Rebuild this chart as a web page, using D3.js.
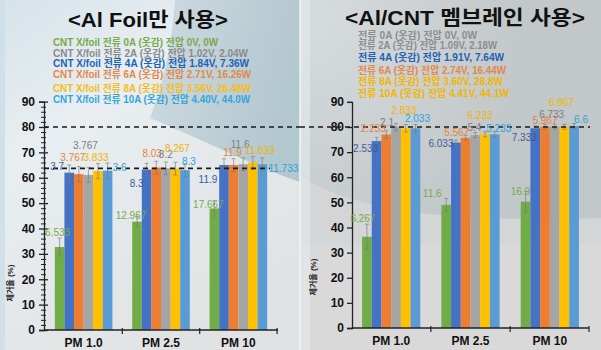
<!DOCTYPE html>
<html><head><meta charset="utf-8">
<script src="https://cdn.jsdelivr.net/npm/d3@7"></script>
<style>body{margin:0;background:#fff} svg{display:block}</style>
</head><body><svg id="c" width="601" height="350"></svg>
<script>
// ---------- DATA ----------
const categories = ["PM 1.0", "PM 2.5", "PM 10"];
const seriesKeys = ["0A", "4A", "6A", "2A", "8A", "10A"]; // bar order (by colour)
const yTicks = [0, 10, 20, 30, 40, 50, 60, 70, 80, 90];

// Left panel: Al Foil only (removal rate %)
const foil0A  = [32.7, 42.7, 47.9];
const foil4A  = [62.0, 63.2, 65.0];
const foil6A  = [61.4, 64.0, 65.0];
const foil2A  = [61.1, 63.7, 65.3];
const foil8A  = [62.6, 63.6, 65.9];
const foil10A = [62.8, 63.0, 65.3];
const foilErr0A = [3.5, 2.0, 3.0];
const foilErrOther = [3.0, 2.5, 2.5];
const foilLbl0A  = ["6.533", "12.967", "17.667"];
const foilLbl4A  = ["3.7", "8.3", "11.9"];
const foilLbl6A  = ["3.767", "8.03", "11.9"];
const foilLbl2A  = ["3.767", "8.2", "11.6"];
const foilLbl8A  = ["3.833", "8.267", "11.633"];
const foilLbl10A = ["3.6", "8.3", "11.733"];
const foilRefLines = [80, 63.7];
const foilLegend = [
  "CNT X/foil 전류 0A (옷감) 전압 0V, 0W",
  "CNT X/foil 전류 2A (옷감) 전압 1.02V, 2.04W",
  "CNT X/foil 전류 4A (옷감) 전압 1.84V, 7.36W",
  "CNT X/foil 전류 6A (옷감) 전압 2.71V, 16.26W",
  "CNT X/foil 전류 8A (옷감) 전압 3.56V, 28.48W",
  "CNT X/foil 전류 10A (옷감) 전압 4.40V, 44.0W"];

// Right panel: Al/CNT membrane
const memb0A  = [36.3, 49.0, 50.3];
const memb4A  = [74.4, 73.8, 79.5];
const memb6A  = [77.0, 75.7, 80.1];
const memb2A  = [80.0, 76.8, 80.2];
const memb8A  = [79.5, 77.1, 80.1];
const memb10A = [79.5, 77.1, 80.4];
const membErr0A = [5.0, 2.5, 4.0];
const membErrOther = [1.5, 1.0, 1.0];
const membLbl0A  = ["6.267", "11.6", "16.9"];
const membLbl4A  = ["2.533", "6.033", "7.333"];
const membLbl6A  = ["2.233", "5.567", "5.967"];
const membLbl2A  = ["2.1", "5.4", "6.733"];
const membLbl8A  = ["2.833", "6.233", "6.867"];
const membLbl10A = ["2.033", "5.233", "6.6"];
const membRefLines = [80];
const membLegend = [
  "전류 0A (옷감) 전압 0V, 0W",
  "전류 2A (옷감) 전압 1.09V, 2.18W",
  "전류 4A (옷감) 전압 1.91V, 7.64W",
  "전류 6A (옷감) 전압 2.74V, 16.44W",
  "전류 8A (옷감) 전압 3.60V, 28.8W",
  "전류 10A (옷감) 전압 4.41V, 44.1W"];

const titles = ["<Al Foil만 사용>", "<Al/CNT 멤브레인 사용>"];
const yTitle = "제거율 (%)";

// ---------- STYLE / LAYOUT ----------
const barColors = ["#70AD47", "#4472C4", "#ED7D31", "#A5A5A5", "#FFC000", "#5B9BD5"];
const lblColors = ["#78a94e", "#3d5c9c", "#e8823c", "#7f7f7f", "#f0b400", "#2ea3dc"];
const FONT = "'Liberation Sans', Arial, 'Noto Sans CJK KR', sans-serif";

// label offsets (dx, dy) from bar-top centre, per series per category
const foilOff = [
  [[-2,-15],[-6,-6],[-6,-4]],
  [[-12,-6],[-10,14],[-16,14]],
  [[-6,-17],[-4,-14],[-1,-13]],
  [[-3,-29],[0,-14],[-3,-20]],
  [[-2,-14],[2,-20],[7,-12]],
  [[12,-3],[4,-9],[21,4]]];
const membOff = [
  [[-4,-18],[-14,-11],[-5,-10]],
  [[-11,7],[-15,1],[-11,9]],
  [[-13,-6],[-9,-5],[0,-6]],
  [[-9,-5],[-1,-8],[-3,-12]],
  [[-2,-18],[-5,-19],[-3,-24]],
  [[2,-10],[4,-6],[7,-7]]];

const svg = d3.select("#c");
const defs = svg.append("defs");

// ---------- BACKGROUNDS ----------
const gL = defs.append("linearGradient").attr("id","bgL").attr("x1",0).attr("y1",0).attr("x2",0.6).attr("y2",1);
gL.append("stop").attr("offset",0).attr("stop-color","#d6e3ea");
gL.append("stop").attr("offset",0.35).attr("stop-color","#e8eef1");
gL.append("stop").attr("offset",1).attr("stop-color","#e1e2e3");
svg.append("rect").attr("x",0).attr("y",0).attr("width",300).attr("height",350).attr("fill","url(#bgL)");
const gT = defs.append("linearGradient").attr("id","teal").attr("x1",0).attr("y1",0).attr("x2",1).attr("y2",0.3);
gT.append("stop").attr("offset",0).attr("stop-color","#cddbe1");
gT.append("stop").attr("offset",1).attr("stop-color","#b3c7ce");
svg.append("path").attr("d","M175,0 L300,0 L300,182 C262,170 215,145 150,118 C165,80 172,40 175,0 Z").attr("fill","url(#teal)");
svg.append("rect").attr("x",0).attr("y",0).attr("width",5).attr("height",350).attr("fill","#cfe0ea");

const gR = defs.append("radialGradient").attr("id","bgR").attr("cx",0.05).attr("cy",0.05).attr("r",0.7);
gR.append("stop").attr("offset",0).attr("stop-color","#d6dbdd");
gR.append("stop").attr("offset",1).attr("stop-color","#c2c7c9");
svg.append("rect").attr("x",300).attr("y",0).attr("width",301).attr("height",350).attr("fill","url(#bgR)");
svg.append("path").attr("d","M300,176 C360,214 460,222 601,218 L601,350 L300,350 Z").attr("fill","#d3d5d6");
svg.append("rect").attr("x",300).attr("y",245).attr("width",301).attr("height",105).attr("fill","#d9d9d9");
svg.append("rect").attr("x",300).attr("y",0).attr("width",10).attr("height",350).attr("fill","#e4ebee").attr("opacity",0.6);
svg.append("line").attr("x1",300).attr("x2",300).attr("y1",0).attr("y2",350).attr("stroke","#f2f4f5").attr("stroke-width",1.5);

// ---------- PANEL ----------
function drawPanel(p) {
  const g = svg.append("g");
  const y = d3.scaleLinear().domain([0, 90]).range([p.y0, p.y90]);
  const x = d3.scaleBand().domain(categories).range([p.xa, p.xb]).paddingInner(p.pi).paddingOuter(p.po);
  const xi = d3.scaleBand().domain(seriesKeys).range([0, x.bandwidth()]);

  // title
  g.append("text").attr("x", p.titleX).attr("y", p.titleY).attr("text-anchor","middle")
    .attr("font-family", FONT).attr("font-weight","bold").attr("font-size", 20)
    .attr("textLength", p.titleW).attr("lengthAdjust","spacingAndGlyphs").attr("fill","#111").text(p.title);

  // legend
  g.selectAll("text.leg").data(p.legend).join("text").attr("class","leg")
    .attr("x", p.legX).attr("y", (d,i) => p.legY[i])
    .attr("font-family", FONT).attr("font-weight","bold").attr("font-size", 10)
    .attr("textLength", (d,i) => p.legW[i]).attr("lengthAdjust","spacingAndGlyphs")
    .attr("fill", (d,i) => p.legColors[i]).text(d => d);

  // bars
  p.series.forEach((vals, s) => {
    g.selectAll(null).data(vals).join("rect")
      .attr("x", (d,i) => x(categories[i]) + xi(seriesKeys[s]))
      .attr("y", d => y(d)).attr("width", xi.bandwidth()).attr("height", d => y(0) - y(d))
      .attr("fill", barColors[s]);
  });
  // error bars
  p.series.forEach((vals, s) => {
    const errs = s === 0 ? p.err0 : p.errOther;
    vals.forEach((v, i) => {
      const cx = x(categories[i]) + xi(seriesKeys[s]) + xi.bandwidth()/2;
      const e = errs[i];
      const eg = g.append("g").attr("stroke","#7a7a7a").attr("stroke-width",0.8).attr("opacity",0.8);
      eg.append("line").attr("x1",cx).attr("x2",cx).attr("y1",y(v+e)).attr("y2",y(v-e));
      eg.append("line").attr("x1",cx-2).attr("x2",cx+2).attr("y1",y(v+e)).attr("y2",y(v+e));
      eg.append("line").attr("x1",cx-2).attr("x2",cx+2).attr("y1",y(v-e)).attr("y2",y(v-e));
    });
  });

  // y axis
  const ya = g.append("g").attr("transform", `translate(${p.xa},0)`)
    .call(d3.axisLeft(y).tickValues(yTicks).tickSize(5).tickPadding(p.tickPad));
  ya.attr("font-family", FONT).attr("font-size", 12).attr("font-weight","bold");
  ya.selectAll("text").attr("fill","#111");
  ya.selectAll("line, path").attr("stroke","#222").attr("stroke-width",1.3);
  if (p.cross) {
    ya.selectAll(".tick line").attr("x1", 4).attr("x2", -5);
    const minor = d3.range(2, 90, 2).filter(v => v % 10 !== 0);
    const ym = g.append("g").attr("transform", `translate(${p.xa},0)`)
      .call(d3.axisLeft(y).tickValues(minor).tickSize(3).tickFormat(""));
    ym.select(".domain").remove();
    ym.selectAll(".tick line").attr("x1", 2).attr("x2", -3).attr("stroke","#222");
  }
  // x axis
  const xa = g.append("g").attr("transform", `translate(0,${p.y0})`)
    .call(d3.axisBottom(x).tickSize(0).tickPadding(p.xPad));
  xa.attr("font-family", FONT).attr("font-size", 12).attr("font-weight","bold");
  xa.selectAll("text").attr("fill","#111");
  xa.select(".domain").attr("stroke","#222").attr("stroke-width",1.3).attr("d", `M${p.xa},0H${p.xb}`);
  const step = x.step();
  categories.forEach((c, i) => {
    const bx = x(c) + x.bandwidth() + step * x.paddingInner() / 2;
    xa.append("line").attr("x1", Math.min(bx, p.xb)).attr("x2", Math.min(bx, p.xb)).attr("y1", -2).attr("y2", 4)
      .attr("stroke","#222").attr("stroke-width",1.2);
  });

  // y title
  g.append("text").attr("transform", `translate(${p.ytX},${p.ytY}) rotate(-90)`).attr("text-anchor","middle")
    .attr("font-family", FONT).attr("font-size", 8).attr("font-weight","bold").attr("fill","#222").text(yTitle);

  // reference dashed lines
  p.refs.forEach((r, i) => {
    g.append("line").attr("x1", p.refX1[i]).attr("x2", p.refX2[i]).attr("y1", y(r)).attr("y2", y(r))
      .attr("stroke","#1a1a1a").attr("stroke-width",1.6).attr("stroke-dasharray","5,4");
  });

  // value labels
  p.series.forEach((vals, s) => {
    vals.forEach((v, i) => {
      const cx = x(categories[i]) + xi(seriesKeys[s]) + xi.bandwidth()/2;
      const o = p.off[s][i];
      g.append("text").attr("x", cx + o[0]).attr("y", y(v) + o[1]).attr("dy","0.35em")
        .attr("text-anchor","middle").attr("font-family", FONT).attr("font-size", 10)
        .attr("fill", lblColors[s]).text(p.labels[s][i]);
    });
  });
}

drawPanel({
  title: titles[0], titleX: 148, titleY: 27, titleW: 160,
  legend: foilLegend, legX: 53, legY: [45.5, 56.5, 67, 77.5, 92, 103], legW: [165, 195, 196, 198, 198, 197],
  legColors: ["#78aa4c", "#8a8a8a", "#2262b5", "#e3884a", "#f5bd1c", "#35a5dc"],
  y0: 330, y90: 101.6, xa: 44, xb: 278, pi: 0.256, po: 0.14, tickPad: 4, xPad: 8, cross: true,
  series: [foil0A, foil4A, foil6A, foil2A, foil8A, foil10A],
  labels: [foilLbl0A, foilLbl4A, foilLbl6A, foilLbl2A, foilLbl8A, foilLbl10A],
  err0: foilErr0A, errOther: foilErrOther, off: foilOff,
  refs: foilRefLines, refX1: [44, 44], refX2: [300, 270],
  ytX: 13, ytY: 283
});
drawPanel({
  title: titles[1], titleX: 465, titleY: 25, titleW: 240,
  legend: membLegend, legX: 358, legY: [38.5, 48.5, 60.5, 73.5, 84.5, 96.5], legW: [119, 139, 146, 148, 145, 151],
  legColors: ["#8d8d8d", "#8d8d8d", "#2262b5", "#e3884a", "#f2b500", "#f2b500"],
  y0: 328, y90: 101.9, xa: 352, xb: 589, pi: 0.266, po: 0.127, tickPad: 3, xPad: 8, cross: false,
  series: [memb0A, memb4A, memb6A, memb2A, memb8A, memb10A],
  labels: [membLbl0A, membLbl4A, membLbl6A, membLbl2A, membLbl8A, membLbl10A],
  err0: membErr0A, errOther: membErrOther, off: membOff,
  refs: membRefLines, refX1: [300], refX2: [590],
  ytX: 316, ytY: 277
});
</script></body></html>
